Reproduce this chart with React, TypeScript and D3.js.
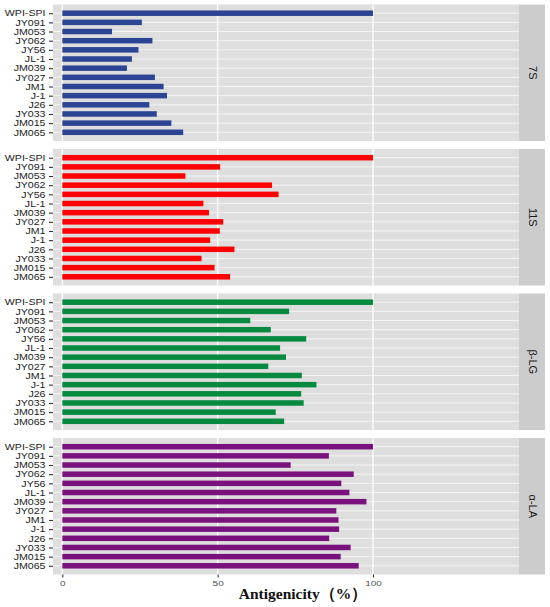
import React, { useRef, useEffect } from 'react';
import * as d3 from 'd3';

const samples = ['WPI-SPI', 'JY091', 'JM053', 'JY062', 'JY56', 'JL-1', 'JM039', 'JY027', 'JM1', 'J-1', 'J26', 'JY033', 'JM015', 'JM065'];
const panelNames = ['7S', '11S', 'β-LG', 'α-LA'];
const panelColors = ['#2b4594', '#ff0000', '#078a40', '#7a127d'];

const values7S = [100, 25.6, 16.0, 29.0, 24.5, 22.4, 20.8, 29.8, 32.6, 33.7, 28.0, 30.4, 35.1, 38.9];
const values11S = [100, 50.8, 39.6, 67.5, 69.6, 45.4, 47.2, 51.8, 50.7, 47.6, 55.4, 44.8, 49.0, 54.0];
const valuesBLG = [100, 73.0, 60.5, 67.1, 78.5, 70.1, 72.0, 66.3, 77.1, 81.8, 76.9, 77.7, 68.7, 71.4];
const valuesALA = [100, 85.8, 73.5, 93.8, 89.8, 92.4, 97.9, 88.2, 88.9, 89.1, 85.9, 92.8, 89.6, 95.4];
const xTicks = [0, 50, 100];

const allValues = [values7S, values11S, valuesBLG, valuesALA];

// the source picture is stretched sideways, so the axis text is widened too
const stretch = 1.25;

const App: React.FC = () => {
  const svgRef = useRef<SVGSVGElement>(null);

  useEffect(() => {
    const svg = d3.select(svgRef.current);
    svg.selectAll('*').remove();

    const panelLeft = 53;
    const panelRight = 519;
    const stripW = 26;
    const panelTop = 4.5;
    const panelH = 136.5;
    const gap = 8;

    const x = d3.scaleLinear().domain([-3, 147]).range([panelLeft, panelRight]);

    panelNames.forEach((name, i) => {
      const top = panelTop + i * (panelH + gap);
      const g = svg.append('g');

      const y = d3.scalePoint<string>()
        .domain(samples)
        .range([top, top + panelH])
        .padding(0.95);
      const barH = y.step() * 0.6;

      // panel background
      g.append('rect')
        .attr('x', panelLeft).attr('y', top)
        .attr('width', panelRight - panelLeft).attr('height', panelH)
        .attr('fill', '#dedede');

      // horizontal grid
      g.selectAll('.hgrid')
        .data(samples)
        .enter().append('line')
        .attr('x1', panelLeft).attr('x2', panelRight)
        .attr('y1', d => y(d)!).attr('y2', d => y(d)!)
        .attr('stroke', '#fff').attr('stroke-width', 0.7);

      // vertical grid
      g.selectAll('.vgrid')
        .data(xTicks)
        .enter().append('line')
        .attr('x1', d => x(d)).attr('x2', d => x(d))
        .attr('y1', top).attr('y2', top + panelH)
        .attr('stroke', '#fff').attr('stroke-width', 1.3);

      // bars
      g.selectAll('.bar')
        .data(allValues[i])
        .enter().append('rect')
        .attr('x', x(0))
        .attr('y', (d, j) => y(samples[j])! - barH / 2)
        .attr('width', d => x(d) - x(0))
        .attr('height', barH)
        .attr('fill', panelColors[i]);

      // strip
      g.append('rect')
        .attr('x', panelRight).attr('y', top)
        .attr('width', stripW).attr('height', panelH)
        .attr('fill', '#cccccc');
      g.append('text')
        .attr('transform', `translate(${panelRight + stripW / 2 + 1}, ${top + panelH / 2}) rotate(90)`)
        .attr('text-anchor', 'middle')
        .attr('dy', '0.35em')
        .style('font-family', '"Liberation Sans", Arial, sans-serif')
        .style('font-size', '11px')
        .style('fill', '#1a1a1a')
        .text(name);

      // y axis
      const yAxis = g.append('g')
        .attr('transform', `translate(${panelLeft},0)`)
        .call(d3.axisLeft(y).tickSize(4).tickPadding(3));
      yAxis.select('.domain').remove();
      yAxis.selectAll('line').attr('stroke', '#333').attr('stroke-width', 1.1);
      yAxis.selectAll('text')
        .attr('x', -7.5 / stretch)
        .attr('transform', `scale(${stretch},1)`)
        .style('font-family', '"Liberation Sans", Arial, sans-serif')
        .style('font-size', '8.5px')
        .style('fill', '#222');

      if (i === panelNames.length - 1) {
        const xAxis = g.append('g')
          .attr('transform', `translate(0,${top + panelH})`)
          .call(d3.axisBottom(x).tickValues(xTicks).tickSize(3).tickPadding(3));
        xAxis.select('.domain').remove();
        xAxis.selectAll('line').attr('stroke', '#333').attr('stroke-width', 1.1);
        xAxis.selectAll('text')
          .attr('transform', `scale(${stretch},1)`)
          .style('font-family', '"Liberation Sans", Arial, sans-serif')
          .style('font-size', '8px')
          .style('fill', '#4d4d4d');
      }
    });

    svg.append('text')
      .attr('x', 303)
      .attr('y', 599)
      .attr('text-anchor', 'middle')
      .style('font-family', '"Liberation Serif", "Times New Roman", serif')
      .style('font-weight', 'bold')
      .style('font-size', '15.5px')
      .style('fill', '#111')
      .text('Antigenicity（%）');
  }, []);

  return (
    <svg
      ref={svgRef}
      width={550}
      height={607}
      style={{ position: 'absolute', left: 0, top: 0, background: '#fff' }}
    />
  );
};

export default App;
